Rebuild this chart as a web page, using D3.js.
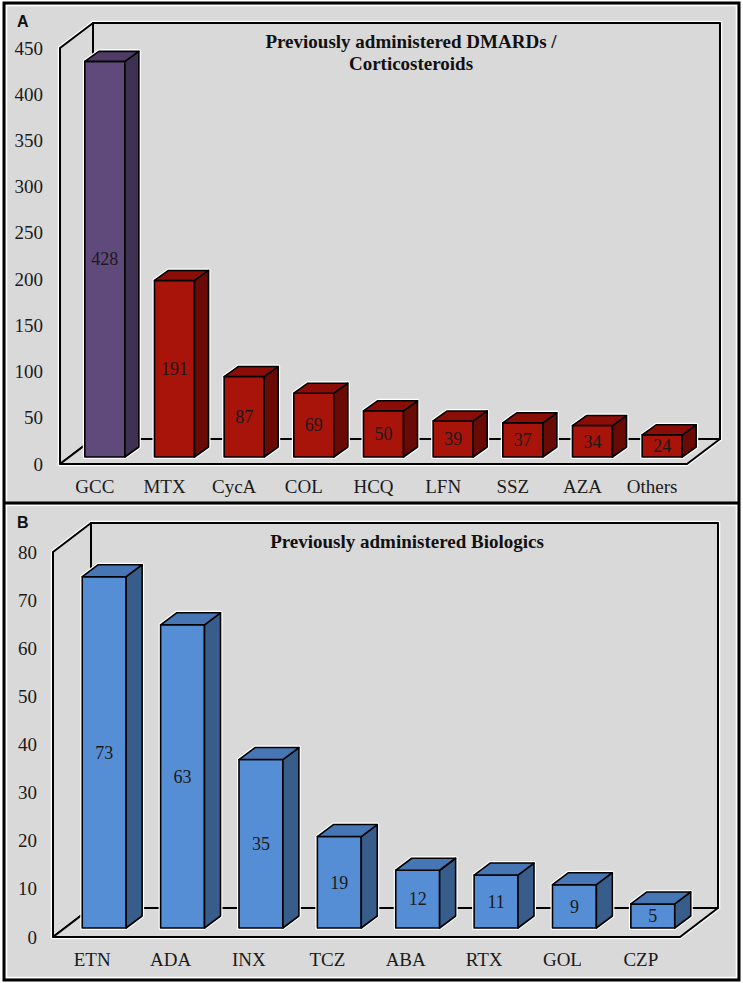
<!DOCTYPE html>
<html>
<head>
<meta charset="utf-8">
<script src="https://cdn.jsdelivr.net/npm/d3@7"></script>
<style>
  body { margin: 0; background: #fff; }
  svg { display: block; }
</style>
</head>
<body>
<svg id="chart" width="743" height="983"></svg>
<script>
// Panel A - DMARDs / corticosteroids
var catsA = ["GCC", "MTX", "CycA", "COL", "HCQ", "LFN", "SSZ", "AZA", "Others"];
var valsA = [428, 191, 87, 69, 50, 39, 37, 34, 24];
var ticksA = [0, 50, 100, 150, 200, 250, 300, 350, 400, 450];

// Panel B - biologics
var catsB = ["ETN", "ADA", "INX", "TCZ", "ABA", "RTX", "GOL", "CZP"];
var valsB = [73, 63, 35, 19, 12, 11, 9, 5];
var ticksB = [0, 10, 20, 30, 40, 50, 60, 70, 80];

var serif = "'Liberation Serif', 'Times New Roman', serif";
var bg = '#d9d9d9';

var purple = { front: '#604a7b', side: '#3f3151', top: '#4e3c66' };
var red = { front: '#a8130a', side: '#6a0a05', top: '#8a0e07' };
var blue = { front: '#558ed5', side: '#385d8a', top: '#4776b4' };

var svg = d3.select('#chart');

// panel background
svg.append('rect').attr('x', 4).attr('y', 3).attr('width', 735).attr('height', 977)
  .attr('fill', bg);

var pts = function(a) { return a.map(function(p) { return p.join(','); }).join(' '); };

/////////////////////////
// 3D column panel
var drawPanel = function(cfg) {
  var g = svg.append('g');

  var x = d3.scaleBand().domain(cfg.cats).range([cfg.x0, cfg.x1]);
  var y = d3.scaleLinear().domain([0, d3.max(cfg.ticks)]).range([cfg.y0, cfg.yTop]);
  var dx = cfg.depth[0], dy = cfg.depth[1];
  var yb = y(0), yt = y(d3.max(cfg.ticks));

  // walls and floor
  var walls = [
    // back wall
    [[cfg.x0 + dx, yt + dy], [cfg.x1 + dx, yt + dy], [cfg.x1 + dx, yb + dy], [cfg.x0 + dx, yb + dy]],
    // left wall
    [[cfg.x0, yb], [cfg.x0, yt], [cfg.x0 + dx, yt + dy], [cfg.x0 + dx, yb + dy]],
    // floor
    [[cfg.x0, yb], [cfg.x1, yb], [cfg.x1 + dx, yb + dy], [cfg.x0 + dx, yb + dy]]
  ];
  g.selectAll('polygon.halo').data(walls).enter().append('polygon')
    .attr('points', pts)
    .attr('fill', 'none').attr('stroke', '#fff').attr('stroke-width', 4.5)
    .attr('stroke-linejoin', 'round');
  g.selectAll('polygon.wall').data(walls).enter().append('polygon')
    .attr('points', pts)
    .attr('fill', bg).attr('stroke', '#000').attr('stroke-width', 2)
    .attr('stroke-linejoin', 'round');

  // bars
  var w = x.bandwidth() * cfg.barFrac;
  var ox = cfg.offset[0], oy = cfg.offset[1];
  var bx = cfg.barDepth[0], by = cfg.barDepth[1];

  var bars = g.selectAll('g.bar')
    .data(cfg.vals)
    .enter()
      .append('g')
        .attr('class', 'bar');

  var faces = function(d, i) {
    var l = x(cfg.cats[i]) + x.bandwidth() / 2 + ox - w / 2;
    var r = l + w;
    var b = y(0) + oy;
    var t = y(d) + oy;
    return {
      front: [[l, t], [r, t], [r, b], [l, b]],
      side: [[r, t], [r + bx, t + by], [r + bx, b + by], [r, b]],
      top: [[l, t], [l + bx, t + by], [r + bx, t + by], [r, t]],
      outline: [[l, b], [l, t], [l + bx, t + by], [r + bx, t + by], [r + bx, b + by], [r, b]]
    };
  };

  bars.append('polygon')
    .attr('points', function(d, i) { return pts(faces(d, i).outline); })
    .attr('fill', 'none').attr('stroke', '#fff').attr('stroke-width', 4)
    .attr('stroke-linejoin', 'round');

  ['front', 'side', 'top'].forEach(function(face) {
    bars.append('polygon')
      .attr('points', function(d, i) { return pts(faces(d, i)[face]); })
      .attr('fill', function(d, i) { return cfg.color(i)[face]; })
      .attr('stroke', '#000').attr('stroke-width', 1.6)
      .attr('stroke-linejoin', 'round');
  });

  // value labels in the middle of the front face
  bars.append('text')
    .text(function(d) { return d; })
    .attr('x', function(d, i) { return x(cfg.cats[i]) + x.bandwidth() / 2 + ox; })
    .attr('y', function(d) { return (y(0) + y(d)) / 2 + oy; })
    .attr('dy', '0.35em')
    .attr('text-anchor', 'middle')
    .attr('font-family', serif)
    .attr('font-size', 18)
    .attr('fill', '#1a1a1a');

  // axes
  var yAxis = g.append('g')
    .attr('transform', 'translate(' + cfg.x0 + ',0)')
    .call(d3.axisLeft(y).tickValues(cfg.ticks).tickSize(0).tickPadding(cfg.yPad));
  var xAxis = g.append('g')
    .attr('transform', 'translate(0,' + cfg.y0 + ')')
    .call(d3.axisBottom(x).tickSize(0).tickPadding(16));
  [yAxis, xAxis].forEach(function(a) {
    a.select('.domain').remove();
    a.selectAll('text')
      .attr('font-family', serif)
      .attr('font-size', 19)
      .attr('fill', '#1a1a1a');
  });

  // title
  g.selectAll('text.title')
    .data(cfg.title)
    .enter()
      .append('text')
        .text(function(d) { return d; })
        .attr('x', cfg.titleX)
        .attr('y', function(d, i) { return cfg.titleY + i * 22; })
        .attr('text-anchor', 'middle')
        .attr('font-family', serif)
        .attr('font-weight', 'bold')
        .attr('font-size', 19)
        .attr('fill', '#111');

  // panel letter
  g.append('text')
    .text(cfg.letter)
    .attr('x', 17).attr('y', cfg.letterY)
    .attr('font-family', "'Liberation Sans', Arial, sans-serif")
    .attr('font-weight', 'bold')
    .attr('font-size', 16)
    .attr('fill', '#111');
};

drawPanel({
  cats: catsA, vals: valsA, ticks: ticksA,
  x0: 60, x1: 687, y0: 464, yTop: 48,
  depth: [33, -25], offset: [10, -7], barDepth: [14, -10], barFrac: 0.575,
  yPad: 17,
  color: function(i) { return i === 0 ? purple : red; },
  title: ['Previously administered DMARDs /', 'Corticosteroids'],
  titleX: 411, titleY: 48,
  letter: 'A', letterY: 27
});

drawPanel({
  cats: catsB, vals: valsB, ticks: ticksB,
  x0: 53, x1: 680, y0: 937, yTop: 552,
  depth: [38, -29], offset: [12, -9], barDepth: [16, -12], barFrac: 0.56,
  yPad: 16,
  color: function(i) { return blue; },
  title: ['Previously administered Biologics'],
  titleX: 407, titleY: 548,
  letter: 'B', letterY: 528
});

// outer frame and divider
svg.append('rect').attr('x', 6.5).attr('y', 5.5).attr('width', 730).attr('height', 972)
  .attr('fill', 'none').attr('stroke', '#fff').attr('stroke-width', 1.5);
svg.append('line').attr('x1', 4).attr('x2', 739).attr('y1', 505.5).attr('y2', 505.5)
  .attr('stroke', '#fff').attr('stroke-width', 1.5);
svg.append('rect').attr('x', 4).attr('y', 3).attr('width', 735).attr('height', 977)
  .attr('fill', 'none').attr('stroke', '#000').attr('stroke-width', 3);
svg.append('line').attr('x1', 4).attr('x2', 739).attr('y1', 503).attr('y2', 503)
  .attr('stroke', '#000').attr('stroke-width', 3);
</script>
</body>
</html>
